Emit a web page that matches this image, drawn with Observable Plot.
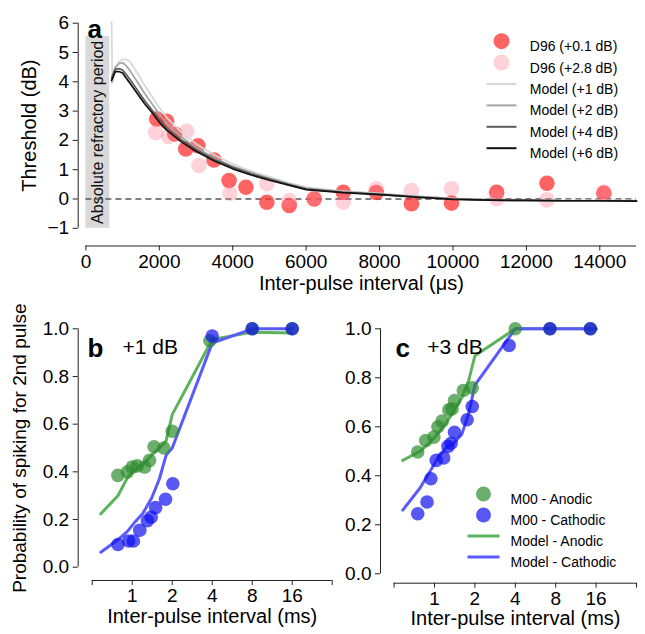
<!DOCTYPE html>
<html><head><meta charset="utf-8">
<script src="https://cdn.jsdelivr.net/npm/d3@7"></script>
<script src="https://cdn.jsdelivr.net/npm/@observablehq/plot@0.6"></script>
<style>
html,body{margin:0;padding:0;background:#fff;}
#fig{position:relative;width:645px;height:634px;overflow:hidden;font-family:"Liberation Sans",Arial,Helvetica,sans-serif;}
</style></head>
<body><div id="fig"></div>
<script>
// ---------- Panel a data ----------
const ipiD96Low = [1930, 2200, 2420, 2720, 3050, 3490, 3900, 4360, 4930, 5540, 6220, 7010, 7910, 8870, 9960, 11190, 12560, 14110];
const thrD96Low = [2.73, 2.65, 2.22, 1.71, 1.82, 1.33, 0.63, 0.40, -0.11, -0.22, 0.0, 0.23, 0.22, -0.16, -0.14, 0.23, 0.54, 0.20];
const ipiD96High = [1900, 2250, 2750, 3080, 3920, 4930, 5540, 6220, 7010, 7910, 8870, 9960, 11190, 12560, 14110];
const thrD96High = [2.27, 2.13, 2.31, 1.14, 0.20, 0.52, -0.05, 0.03, -0.11, 0.35, 0.29, 0.35, 0.01, -0.03, 0.23];
const modelIPI = [700, 720, 800, 900, 1000, 1100, 1200, 1400, 1600, 1800, 2000, 2200, 2600, 3000, 3500, 4000, 4500, 5000, 5500, 6000, 7000, 8000, 9000, 10000, 11000, 12000, 13000, 14000, 15000];
const model1dB = [6.05, 3.95, 4.45, 4.68, 4.77, 4.76, 4.70, 4.30, 3.88, 3.50, 3.12, 2.78, 2.28, 1.88, 1.50, 1.20, 0.95, 0.76, 0.56, 0.40, 0.27, 0.19, 0.10, 0.02, -0.02, -0.04, -0.05, -0.05, -0.05];
const model2dB = [4.00, 4.20, 4.50, 4.62, 4.65, 4.55, 4.38, 4.00, 3.60, 3.25, 2.90, 2.58, 2.12, 1.76, 1.40, 1.12, 0.90, 0.71, 0.53, 0.37, 0.25, 0.18, 0.09, 0.01, -0.03, -0.05, -0.06, -0.06, -0.06];
const model4dB = [4.10, 4.20, 4.43, 4.45, 4.40, 4.25, 4.08, 3.72, 3.36, 3.04, 2.72, 2.43, 2.02, 1.69, 1.35, 1.08, 0.86, 0.68, 0.50, 0.34, 0.23, 0.16, 0.07, 0.00, -0.04, -0.05, -0.06, -0.06, -0.07];
const model6dB = [4.05, 4.10, 4.35, 4.35, 4.30, 4.12, 3.95, 3.60, 3.25, 2.95, 2.62, 2.35, 1.95, 1.63, 1.30, 1.03, 0.82, 0.64, 0.48, 0.32, 0.22, 0.15, 0.06, -0.01, -0.04, -0.05, -0.06, -0.06, -0.07];
const xTicksA = [0, 2000, 4000, 6000, 8000, 10000, 12000, 14000];
const yTicksA = [-1, 0, 1, 2, 3, 4, 5, 6];
const xDomA = [-210, 15000];
const yDomA = [-1.604, 6];
const refractoryIPI = [0, 650];
const refractoryThr = [-1, 5.55];
const legendLabelsA = ["D96 (+0.1 dB)", "D96 (+2.8 dB)", "Model (+1 dB)", "Model (+2 dB)", "Model (+4 dB)", "Model (+6 dB)"];

// ---------- Panels b, c data (ms) ----------
const ipiAnodicB = [0.78, 0.92, 1.0, 1.09, 1.24, 1.35, 1.46, 1.73, 2.0, 3.84, 8, 16];
const probAnodicB = [0.385, 0.40, 0.42, 0.425, 0.42, 0.448, 0.505, 0.50, 0.57, 0.95, 1.0, 1.0];
const ipiCathodicB = [0.78, 0.94, 1.02, 1.14, 1.30, 1.39, 1.50, 1.78, 2.02, 4.0, 8, 16];
const probCathodicB = [0.095, 0.11, 0.11, 0.155, 0.195, 0.21, 0.25, 0.285, 0.35, 0.97, 1.0, 1.0];
const ipiAnodicC = [0.75, 0.86, 0.99, 1.06, 1.14, 1.28, 1.35, 1.41, 1.64, 1.91, 4.0, 7.25, 14.5];
const probAnodicC = [0.497, 0.544, 0.558, 0.60, 0.623, 0.669, 0.673, 0.707, 0.748, 0.759, 1.0, 1.0, 1.0];
const ipiCathodicC = [0.75, 0.88, 0.94, 1.03, 1.17, 1.26, 1.33, 1.41, 1.75, 1.91, 3.6, 7.25, 14.5];
const probCathodicC = [0.245, 0.293, 0.388, 0.463, 0.473, 0.52, 0.533, 0.578, 0.629, 0.683, 0.932, 1.0, 1.0];
const modelIPIms = [0.58, 0.78, 0.92, 1.05, 1.2, 1.4, 1.6, 1.8, 2.0, 4, 8, 16];
const modelAnodicB = [0.224, 0.30, 0.375, 0.41, 0.43, 0.47, 0.50, 0.53, 0.64, 0.955, 0.986, 0.982];
const modelCathodicB = [0.063, 0.115, 0.15, 0.19, 0.225, 0.29, 0.37, 0.47, 0.50, 0.94, 1.0, 1.0];
const modelAnodicC = [0.463, 0.50, 0.535, 0.57, 0.61, 0.665, 0.72, 0.79, 0.89, 1.0, 1.0, 1.0];
const modelCathodicC = [0.26, 0.35, 0.415, 0.47, 0.51, 0.535, 0.57, 0.655, 0.77, 1.0, 1.0, 1.0];
const xTicksBC = [0.5, 1, 2, 4, 8, 16, 32];
const xTickLabelsBC = [1, 2, 4, 8, 16];
const yTicksBC = [0, 0.2, 0.4, 0.6, 0.8, 1.0];
const legendLabelsC = ["M00 - Anodic", "M00 - Cathodic", "Model - Anodic", "Model - Cathodic"];

// ---------- helpers ----------
const pts = (xs, ys) => xs.map((x, i) => ({x, y: ys[i]}));
const fig = document.getElementById("fig");
function place(el, left, top) {
  el.style.position = "absolute";
  el.style.left = left + "px";
  el.style.top = top + "px";
  fig.appendChild(el);
}
const TICK_FS = 19, TITLE_FS = 20, TITLE_DY = 44;
const baseStyle = {fontFamily: '"Liberation Sans", Arial, Helvetica, sans-serif', fontSize: "18px", color: "#000", background: "transparent", overflow: "visible"};
const lineSym = (half) => ({draw(ctx) { ctx.moveTo(-half, 0); ctx.lineTo(half, 0); }});
const axisColor = "#222";

const redCol = "#ff3030", redOp = 0.75;
const pinkCol = "#ff7f96", pinkOp = 0.35;
const modelColors = ["#d8d8d8", "#a4a4a4", "#5c5c5c", "#111111"];
const modelSeries = [model1dB, model2dB, model4dB, model6dB];
const greenDot = "#2e8b2e", blueDot = "#1010f0", dotOp = 0.7;
const greenLine = "#5cb35c", blueLine = "#5a5aff";

// ---------- Panel a ----------
{
  const refractory = [{x1: refractoryIPI[0], x2: refractoryIPI[1], y1: refractoryThr[0], y2: refractoryThr[1]}];
  const legendMarks = [];
  const lx = 423.3, ly0 = 18, lstep = 21.4, tx = 451.6;
  legendLabelsA.forEach((lab, i) => {
    const dy = ly0 + i * lstep;
    if (i < 2) {
      legendMarks.push(Plot.dot([lab], {frameAnchor: "top-left", dx: lx, dy, r: 8, fill: i === 0 ? redCol : pinkCol, fillOpacity: i === 0 ? redOp : pinkOp}));
    } else {
      legendMarks.push(Plot.dot([lab], {frameAnchor: "top-left", dx: lx, dy, symbol: lineSym(15), fill: "none", stroke: modelColors[i - 2], strokeWidth: 2}));
    }
    legendMarks.push(Plot.text([lab], {frameAnchor: "top-left", dx: tx, dy, textAnchor: "start", fontSize: 14}));
  });
  const plotA = Plot.plot({
    width: 645, height: 300,
    marginLeft: 77.7, marginRight: 9, marginTop: 22.7, marginBottom: 54.5,
    x: {domain: xDomA}, y: {domain: yDomA},
    style: baseStyle,
    marks: [
      Plot.rect(refractory, {x1: "x1", x2: "x2", y1: "y1", y2: "y2", fill: "#d9d9d9"}),
      Plot.text(refractory, {x: d => (d.x1 + d.x2) / 2, y: d => (d.y1 + d.y2) / 2, text: () => "Absolute refractory period", rotate: -90, fontSize: 16, fill: "#111"}),
      Plot.ruleY([0], {x1: () => xTicksA[0], x2: () => xDomA[1], stroke: "#555", strokeWidth: 1.4, strokeDasharray: "6,4"}),
      Plot.dot(pts(ipiD96Low, thrD96Low), {x: "x", y: "y", r: 7.8, fill: redCol, fillOpacity: redOp}),
      Plot.dot(pts(ipiD96High, thrD96High), {x: "x", y: "y", r: 7.8, fill: pinkCol, fillOpacity: pinkOp}),
      ...modelSeries.map((s, i) => Plot.line(pts(modelIPI, s), {x: "x", y: "y", stroke: modelColors[i], strokeWidth: 1.7})),
      Plot.axisX({ticks: xTicksA, tickSize: 5, tickPadding: 3, tickFormat: d3.format("d"), label: null, fontSize: TICK_FS, stroke: axisColor}),
      Plot.axisY({ticks: yTicksA, tickSize: 5, tickPadding: 4, label: null, fontSize: TICK_FS, stroke: axisColor}),
      Plot.ruleY([yDomA[0]], {x1: () => xTicksA[0], x2: () => xDomA[1], stroke: axisColor}),
      Plot.ruleX([xDomA[0]], {y1: () => yTicksA[0], y2: () => yTicksA[yTicksA.length - 1], stroke: axisColor}),
      Plot.text(["Inter-pulse interval (μs)"], {frameAnchor: "bottom", textAnchor: "middle", dx: 4, dy: TITLE_DY, fontSize: TITLE_FS}),
      Plot.text(["Threshold (dB)"], {frameAnchor: "left", textAnchor: "middle", rotate: -90, dx: -49, dy: -9, fontSize: TITLE_FS}),
      Plot.text(["a"], {frameAnchor: "top-left", dx: 9.3, dy: -3.2, textAnchor: "start", fontSize: 26, fontWeight: "bold"}),
      ...legendMarks
    ]
  });
  place(plotA, 0, 0);
}

// ---------- Panels b & c ----------
function panel({w, h, left, top, mL, mR, mT, mB, xDom, yDom, ano, cat, mAno, mCat, letter, level, letterDx, levelDx, yLabel, titleDx, legend}) {
  const marks = [
    Plot.line(pts(modelIPIms, mAno), {x: "x", y: "y", stroke: greenLine, strokeWidth: 3}),
    Plot.line(pts(modelIPIms, mCat), {x: "x", y: "y", stroke: blueLine, strokeWidth: 3}),
    Plot.dot(ano, {x: "x", y: "y", r: 6.8, fill: greenDot, fillOpacity: dotOp}),
    Plot.dot(cat, {x: "x", y: "y", r: 6.8, fill: blueDot, fillOpacity: dotOp}),
    Plot.axisX({ticks: xTicksBC, tickSize: 5, tickPadding: 3, tickFormat: d => xTickLabelsBC.includes(d) ? String(d) : "", label: null, fontSize: TICK_FS, stroke: axisColor}),
    Plot.axisY({ticks: yTicksBC, tickSize: 5, tickPadding: 4, tickFormat: d3.format(".1f"), label: null, fontSize: TICK_FS, stroke: axisColor}),
    Plot.ruleY([yDom[0]], {x1: () => xTicksBC[0], x2: () => xTicksBC[xTicksBC.length - 1], stroke: axisColor}),
    Plot.ruleX([xDom[0]], {y1: () => yTicksBC[0], y2: () => yTicksBC[yTicksBC.length - 1], stroke: axisColor}),
    Plot.text(["Inter-pulse interval (ms)"], {frameAnchor: "bottom", textAnchor: "middle", dx: titleDx, dy: TITLE_DY - 2, fontSize: TITLE_FS}),
    Plot.text([letter], {frameAnchor: "top-left", dx: letterDx, dy: 9.9, textAnchor: "start", fontSize: 26, fontWeight: "bold"}),
    Plot.text([level], {frameAnchor: "top-left", dx: levelDx, dy: 9.9, textAnchor: "start", fontSize: 21})
  ];
  if (yLabel) marks.push(Plot.text([yLabel], {frameAnchor: "left", textAnchor: "middle", rotate: -90, dx: -58, dy: -6.5, fontSize: 19}));
  if (legend) {
    const {lx, ly0, step, tx} = legend;
    legendLabelsC.forEach((lab, i) => {
      const dy = ly0 + i * step;
      if (i < 2) marks.push(Plot.dot([lab], {frameAnchor: "top-left", dx: lx, dy, r: 7.5, fill: i === 0 ? greenDot : blueDot, fillOpacity: dotOp}));
      else marks.push(Plot.dot([lab], {frameAnchor: "top-left", dx: lx, dy, symbol: lineSym(16), fill: "none", stroke: i === 2 ? greenLine : blueLine, strokeWidth: 3}));
      marks.push(Plot.text([lab], {frameAnchor: "top-left", dx: tx, dy, textAnchor: "start", fontSize: 14}));
    });
  }
  const p = Plot.plot({
    width: w, height: h, marginLeft: mL, marginRight: mR, marginTop: mT, marginBottom: mB,
    x: {type: "log", base: 2, domain: xDom},
    y: {domain: yDom},
    style: baseStyle,
    marks
  });
  place(p, left, top);
}

panel({w: 335, h: 334, left: 0, top: 300, mL: 77.7, mR: 3.3, mT: 28.3, mB: 54,
  xDom: [0.392, 32], yDom: [-0.0558, 1],
  ano: pts(ipiAnodicB, probAnodicB), cat: pts(ipiCathodicB, probCathodicB),
  mAno: modelAnodicB, mCat: modelCathodicB,
  letter: "b", level: "+1 dB", letterDx: 9.3, levelDx: 44.3,
  yLabel: "Probability of spiking for 2nd pulse", titleDx: 7});

panel({w: 310, h: 334, left: 335, top: 300, mL: 45, mR: 9, mT: 28.3, mB: 51.3,
  xDom: [0.396, 32], yDom: [-0.0384, 1],
  ano: pts(ipiAnodicC, probAnodicC), cat: pts(ipiCathodicC, probCathodicC),
  mAno: modelAnodicC, mCat: modelCathodicC,
  letter: "c", level: "+3 dB", letterDx: 15, levelDx: 46.7,
  yLabel: null, titleDx: 7,
  legend: {lx: 103, ly0: 165.2, step: 21, tx: 130}});
</script>
</body></html>
